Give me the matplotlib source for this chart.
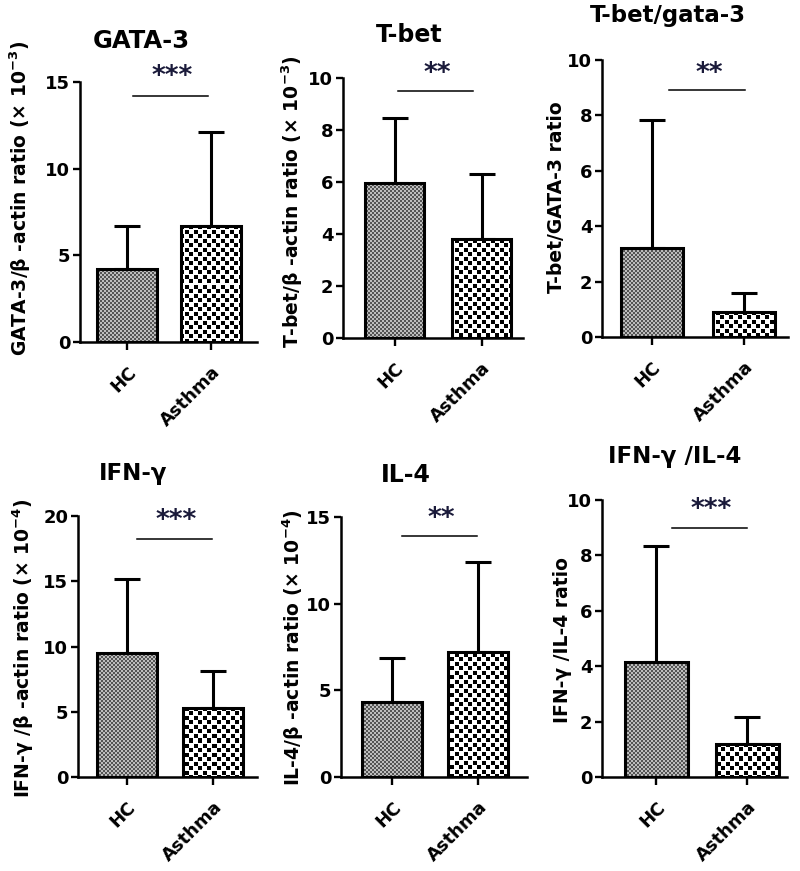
import numpy as np
import matplotlib
matplotlib.use("Agg")
import matplotlib.pyplot as plt

plt.rcParams['font.family'] = ['DejaVu Sans']
plt.rcParams['font.weight'] = 'bold'
plt.rcParams['mathtext.fontset'] = 'dejavusans'
plt.rcParams['mathtext.default'] = 'bf'

W, H = 800, 871
DPI = 100

groups = ["HC", "Asthma"]

titles = ["GATA-3", "T-bet", "T-bet/gata-3", "IFN-γ", "IL-4", "IFN-γ /IL-4"]
ylabels = [r"GATA-3/β -actin ratio (× 10$^{-3}$)",
           r"T-bet/β -actin ratio (× 10$^{-3}$)",
           "T-bet/GATA-3 ratio",
           r"IFN-γ /β -actin ratio (× 10$^{-4}$)",
           r"IL-4/β -actin ratio (× 10$^{-4}$)",
           "IFN-γ /IL-4 ratio"]

gata3_mean = [4.2, 6.7]
gata3_sd = [2.5, 5.4]
tbet_mean = [5.95, 3.8]
tbet_sd = [2.5, 2.5]
ratio_tg_mean = [3.2, 0.9]
ratio_tg_sd = [4.65, 0.7]
ifng_mean = [9.5, 5.3]
ifng_sd = [5.7, 2.8]
il4_mean = [4.35, 7.2]
il4_sd = [2.5, 5.2]
ratio_ii_mean = [4.15, 1.2]
ratio_ii_sd = [4.2, 0.95]

means = [gata3_mean, tbet_mean, ratio_tg_mean, ifng_mean, il4_mean, ratio_ii_mean]
sds = [gata3_sd, tbet_sd, ratio_tg_sd, ifng_sd, il4_sd, ratio_ii_sd]
ymax = [15, 10, 10, 20, 15, 10]
ytick_step = [5, 2, 2, 5, 5, 2]
stars = ["***", "**", "**", "***", "**", "***"]
sig_y = [14.2, 9.5, 8.9, 18.2, 13.9, 9.0]
sig_x = [(0.07, 0.96), (0.04, 0.90), (0.19, 1.01), (0.12, 0.99), (0.12, 0.99), (0.18, 1.0)]
star_y = [15.3, 10.15, 9.5, 19.6, 14.9, 9.65]

# layout in pixels: (axis x, xaxis end, y top, y bottom, HC center, Asthma center, bar width px)
layout = [
    (80, 257, 82, 342, 127, 211, 60),
    (343, 523, 78, 338, 394.5, 481.5, 59),
    (602, 788, 60, 337, 651.5, 744, 62),
    (78, 257, 516, 777, 126.5, 213, 60),
    (341, 527, 517, 777, 392, 478, 60),
    (602, 787, 500, 777, 656, 747, 63),
]
title_pos = [(141, 48, 17.5), (409, 42, 17), (668, 22, 16.5), (133, 480, 16.5), (406, 482, 17), (675, 463, 16.5)]
ylabel_pos = [(20, 198), (292, 202), (556, 197), (23, 648), (293, 648), (562, 640)]

fig = plt.figure(figsize=(W / DPI, H / DPI), dpi=DPI)
fig.patch.set_facecolor('white')


def pattern(kind, wpx, hpx, x0px, y0px):
    jj, ii = np.meshgrid(np.arange(wpx) + int(x0px), np.arange(hpx) + int(y0px))
    if kind == 0:
        chk = ((ii // 2) + (jj // 2)) % 2
        return np.where(chk == 0, 0.33, 0.74)
    else:
        a = (ii % 9 < 4) & (jj % 9 < 4)
        b = (ii % 9 >= 5) & (jj % 9 >= 5)
        return np.where(a | b, 0.0, 1.0)


for k in range(6):
    ax0, ax1, yt, yb, c0, c1, bw = layout[k]
    unit = c1 - c0
    xl = -(c0 - ax0) / unit
    xr = 1 + (ax1 - c1) / unit
    ax = fig.add_axes([ax0 / W, 1 - yb / H, (ax1 - ax0) / W, (yb - yt) / H])
    ax.set_xlim(xl, xr)
    ax.set_ylim(0, ymax[k])
    x = np.arange(len(groups))
    width = bw / unit
    ax.errorbar(x, means[k], yerr=[np.zeros(2), sds[k]], fmt='none', ecolor='black',
                elinewidth=2.2, capsize=9.5, capthick=2.2, zorder=1)
    bars = ax.bar(x, means[k], width=width, facecolor='none', edgecolor='black',
                  linewidth=2.2, zorder=3)
    for i, b in enumerate(bars):
        bx0, by0 = b.get_x(), b.get_y()
        bx1, by1 = bx0 + b.get_width(), by0 + b.get_height()
        p0 = ax.transData.transform((bx0, by0))
        p1 = ax.transData.transform((bx1, by1))
        wpx = max(int(round(p1[0] - p0[0])), 1)
        hpx = max(int(round(p1[1] - p0[1])), 1)
        arr = pattern(i, wpx, hpx, p0[0], H - p1[1])
        im = ax.imshow(arr, extent=[bx0, bx1, by0, by1], cmap='gray', vmin=0, vmax=1,
                       interpolation='nearest', aspect='auto', zorder=2)
        im.set_clip_path(b)
    ax.set_xlim(xl, xr)
    ax.set_ylim(0, ymax[k])
    yt_vals = np.arange(0, ymax[k] + 0.01, ytick_step[k])
    ax.set_yticks(yt_vals)
    ax.set_yticklabels([f"{v:g}" for v in yt_vals], fontsize=13, fontweight='bold')
    ax.set_xticks(x)
    ax.set_xticklabels(groups, rotation=45, ha='right', rotation_mode='anchor',
                       fontsize=13, fontweight='bold')
    ax.tick_params(axis='y', direction='out', length=5, width=1.7, pad=2)
    ax.tick_params(axis='x', direction='out', length=6, width=1.7, pad=9)
    for s in ['top', 'right']:
        ax.spines[s].set_visible(False)
    for s in ['left', 'bottom']:
        ax.spines[s].set_linewidth(1.8)
    ax.set_facecolor('none')
    # significance
    ax.plot(sig_x[k], [sig_y[k], sig_y[k]], color='black', lw=1.1, clip_on=False)
    ax.text(np.mean(sig_x[k]) + 0.02, star_y[k], stars[k], ha='center', va='center',
            fontsize=19, fontweight='bold', color='#1a1a3a', clip_on=False)
    tx, ty, tfs = title_pos[k]
    fig.text(tx / W, 1 - ty / H, titles[k], ha='center', va='baseline',
             fontsize=tfs, fontweight='bold')
    lx, ly = ylabel_pos[k]
    fig.text(lx / W, 1 - ly / H, ylabels[k], rotation=90, ha='center', va='center',
             fontsize=13.5, fontweight='bold')

fig.savefig("out.png", dpi=DPI, facecolor='white')
